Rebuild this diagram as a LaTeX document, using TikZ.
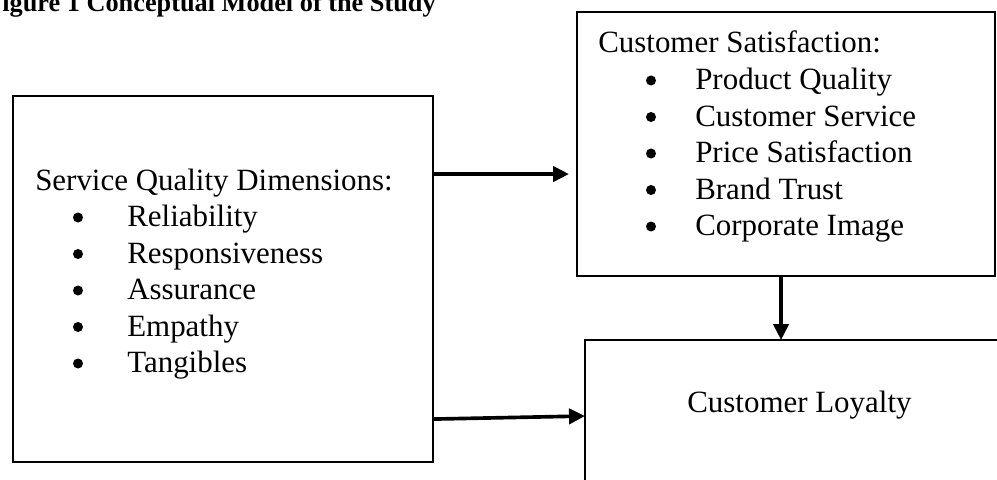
\documentclass[tikz,border=0pt]{standalone}
\usepackage{fontspec}
\setmainfont{Liberation Serif}
\usetikzlibrary{arrows.meta,positioning,calc}

\begin{document}
\begin{tikzpicture}[
  x=0.025cm, y=-0.025cm,
  box/.style={draw=black, line width=1.6pt, rectangle, inner sep=0pt, outer sep=0pt, anchor=north west},
  txt/.style={font=\fontsize{22}{26}\selectfont, inner sep=0pt, anchor=base west},
  dot/.style={circle, fill=black, inner sep=0pt, minimum size=0.25cm},
  arrow/.style={-{Triangle[length=0.4cm, width=0.38cm]}, line width=2.6pt}
]
\useasboundingbox (0,0) rectangle (997,479);

\node[anchor=base west, inner sep=0pt, font=\bfseries\fontsize{18.7}{22}\selectfont] (title) at (-14,12) {Figure 1 Conceptual Model of the Study};

% boxes
\node[box, minimum width=10.5cm, minimum height=9.15cm] (sqd) at (13,96) {};
\node[box, minimum width=10.45cm, minimum height=6.6cm] (sat) at (577,12) {};
\node[box, minimum width=10.625cm, minimum height=4cm] (loyal) at (585,340) {};

% service quality dimensions
\node[txt] (sqdh) at (35,190) {Service Quality Dimensions:};
\foreach \lbl [count=\i] in {Reliability, Responsiveness, Assurance, Empathy, Tangibles} {
  \node[dot] (sqdb\i) at (78,{181+36.5*\i}) {};
  \node[txt] (sqdi\i) at (127,{190+36.5*\i}) {\lbl};
}

% customer satisfaction
\node[txt] (sath) at (598,53) {Customer Satisfaction:};
\foreach \lbl [count=\i] in {Product Quality, Customer Service, Price Satisfaction, Brand Trust, Corporate Image} {
  \node[dot] (satb\i) at (651,{44+36.5*\i}) {};
  \node[txt] (sati\i) at (695,{53+36.5*\i}) {\lbl};
}

% customer loyalty
\node[txt] (loyalh) at (687,412) {Customer Loyalty};

\draw[arrow] ([yshift=-1.95cm]sqd.north east) -- ([xshift=-0.2cm, yshift=-4.05cm]sat.north west);
\draw[arrow] ([yshift=1.075cm]sqd.south east) -- ([yshift=-1.9cm]loyal.north west);
\draw[arrow] ([xshift=-0.125cm]sat.south) -- ([xshift=-0.125cm]sat.south |- loyal.north);
\end{tikzpicture}
\end{document}
